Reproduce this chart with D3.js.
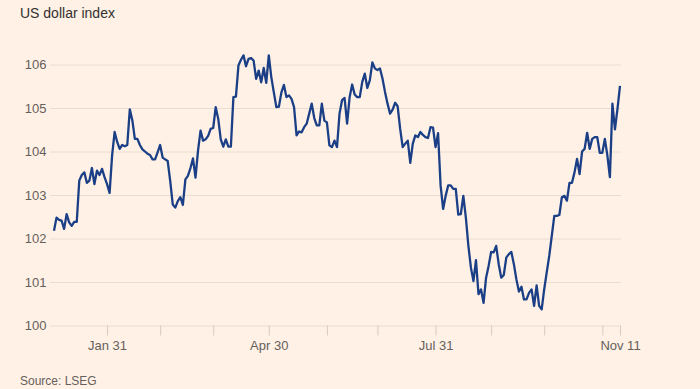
<!DOCTYPE html>
<html><head><meta charset="utf-8">
<script src="https://cdn.jsdelivr.net/npm/d3@7"></script>
<style>
body{margin:0;background:#FFF1E5}
text{font-family:"Liberation Sans",Arial,sans-serif}
</style>
</head><body><svg id="c" width="700" height="389"></svg>
<script>
// ---- data ----
const title = "US dollar index";
const source = "Source: LSEG";
const startDate = "2024-01-02";
const endDate = "2024-11-11";
// daily (business-day) index values, Jan 2 – Nov 11 2024
const values = [
102.18,102.48,102.43,102.41,102.22,102.56,102.37,102.29,102.38,102.38,
103.33,103.46,103.52,103.28,103.33,103.62,103.25,103.56,103.46,103.60,
103.41,103.25,103.05,103.91,104.45,104.22,104.06,104.15,104.12,104.15,
104.97,104.72,104.29,104.29,104.15,104.05,104.00,103.95,103.92,103.82,
103.82,103.98,104.15,103.86,103.82,103.78,103.32,102.78,102.71,102.86,
102.95,102.77,103.36,103.44,103.62,103.84,103.40,104.02,104.48,104.25,
104.28,104.36,104.52,104.54,105.02,104.75,104.28,104.11,104.28,104.11,
104.11,105.25,105.26,105.98,106.11,106.21,105.96,106.13,106.15,106.09,
105.67,105.86,105.59,105.92,105.58,106.21,105.71,105.36,105.02,105.03,
105.36,105.53,105.25,105.29,105.21,105.02,104.37,104.46,104.44,104.56,
104.64,104.87,105.10,104.77,104.60,104.60,105.10,104.71,104.67,104.14,
104.10,104.25,104.10,104.87,105.18,105.23,104.64,105.25,105.54,105.31,
105.25,105.25,105.60,105.79,105.46,105.64,106.05,105.91,105.87,105.91,
105.68,105.37,105.10,104.87,104.96,105.12,105.04,104.52,104.10,104.18,
104.25,103.74,104.18,104.37,104.33,104.45,104.38,104.33,104.31,104.56,
104.55,104.10,104.42,103.22,102.68,102.98,103.22,103.22,103.14,103.14,
102.55,102.56,102.98,102.48,101.83,101.33,101.02,101.50,100.72,100.83,
100.52,101.10,101.37,101.69,101.68,101.83,101.41,101.10,101.16,101.56,
101.64,101.69,101.41,101.06,100.78,100.89,100.60,100.60,100.75,100.83,
100.45,100.92,100.45,100.37,100.83,101.22,101.60,102.06,102.52,102.52,
102.54,102.95,102.98,102.87,103.28,103.28,103.52,103.83,103.48,104.00,
104.06,104.43,104.06,104.29,104.33,104.33,103.97,103.97,104.29,103.91,
103.41,105.10,104.51,104.98,105.51
];
const yTicks = [100,101,102,103,104,105,106];
const xTicks = ["2024-01-31","2024-02-29","2024-03-29","2024-04-30","2024-05-31",
                "2024-06-28","2024-07-31","2024-08-30","2024-09-30","2024-10-31","2024-11-11"];
const xTickLabels = ["Jan 31","","","Apr 30","","","Jul 31","","","","Nov 11"];

// ---- build ----
const fmt = d3.timeFormat("%Y-%m-%d");
const parse = d3.timeParse("%Y-%m-%d");
const dates = d3.timeDay.range(parse(startDate), d3.timeDay.offset(parse(endDate), 1))
  .filter(d => d.getDay() % 6 !== 0).map(fmt);
const data = dates.map((d, i) => ({date: d, value: values[i]})).filter(d => d.value != null);

const svg = d3.select("#c");
svg.append("rect").attr("width", 700).attr("height", 389).attr("fill", "#FFF1E5");

const x = d3.scalePoint().domain(dates).range([54, 620]);
const y = d3.scaleLinear().domain([100, 106]).range([325.5, 64.5]);

// title
svg.append("text").attr("x", 20).attr("y", 17.5).attr("font-size", 14)
  .attr("fill", "#33302E").text(title);

// gridlines + y labels
const yAxis = d3.axisLeft(y).tickValues(yTicks).tickSize(-(621 - 50)).tickPadding(4)
  .tickFormat(d3.format("d"));
const gy = svg.append("g").attr("transform", "translate(50,0)").call(yAxis);
gy.select(".domain").remove();
gy.selectAll(".tick line").attr("stroke", "#E8DDD2").attr("stroke-width", 1);
gy.selectAll(".tick text").attr("font-size", 13).attr("fill", "#66605C")
  .attr("font-family", "Liberation Sans, Arial, sans-serif").attr("x", -3.5);

// x axis ticks
const labelMap = new Map(xTicks.map((d, i) => [d, xTickLabels[i]]));
const xAxis = d3.axisBottom(x).tickValues(xTicks).tickSize(10).tickFormat(d => labelMap.get(d));
const gx = svg.append("g").attr("transform", "translate(0,325.5)").call(xAxis);
gx.select(".domain").remove();
gx.selectAll(".tick line").attr("stroke", "#D5CCC2").attr("stroke-width", 1);
gx.selectAll(".tick text").attr("font-size", 13).attr("fill", "#66605C")
  .attr("font-family", "Liberation Sans, Arial, sans-serif").attr("y", 15);

// line
const line = d3.line().x(d => x(d.date)).y(d => y(d.value));
svg.append("path").datum(data).attr("d", line).attr("fill", "none")
  .attr("stroke", "#1B3F87").attr("stroke-width", 2.3).attr("stroke-linejoin", "round");

// source
svg.append("text").attr("x", 20).attr("y", 384.5).attr("font-size", 12)
  .attr("fill", "#66605C").text(source);
</script>
</body></html>
